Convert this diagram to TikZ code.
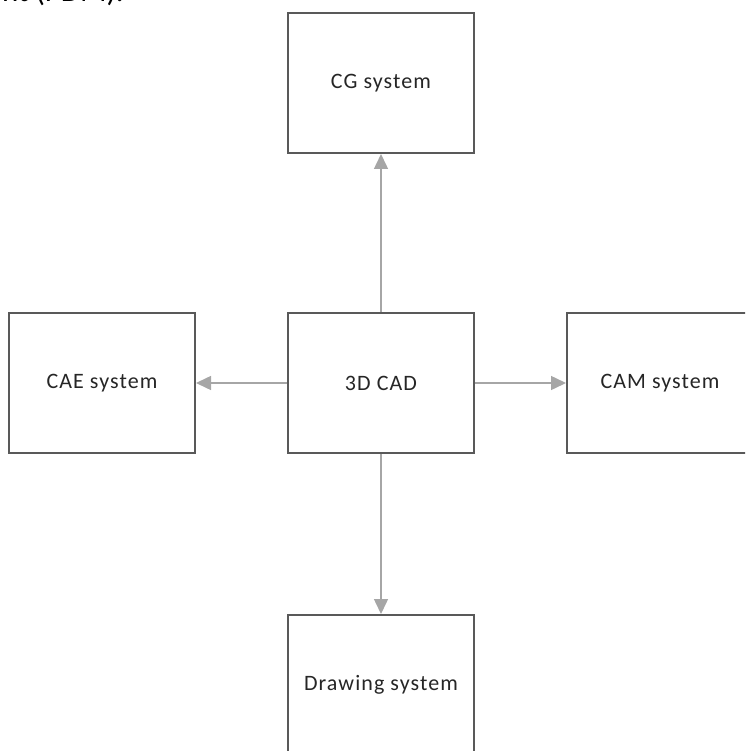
\documentclass[tikz,border=0pt]{standalone}
\usepackage{fontspec}
\setmainfont{Carlito}
\usetikzlibrary{arrows.meta}
\definecolor{boxgray}{HTML}{595959}
\definecolor{linkgray}{HTML}{A6A6A6}
\begin{document}
\begin{tikzpicture}[x=1pt,y=-1pt,
  box/.style={draw=boxgray, line width=2pt, minimum width=186pt, minimum height=140pt,
    inner sep=0pt, fill=white, text=black!85,
    font=\fontsize{22}{26}\selectfont\addfontfeature{LetterSpace=5}},
  link/.style={draw=linkgray, line width=1.5pt, -{Triangle[length=15pt,width=14pt]}}]
\useasboundingbox (0,0) rectangle (745,751);
\clip (0,0) rectangle (745,751);
\node[anchor=base east, inner sep=0pt, font=\fontsize{31}{36}\selectfont] (frag) at (124,2) {nt (PDM).};
\node[box] (cg) at (381,83) {CG system};
\node[box] (cad) at (381,383) {3D CAD};
\node[box] (cae) at (102,383) {CAE system};
\node[box] (cam) at (660,383) {CAM system};
\node[box] (draw) at (381,685) {Drawing system};
\draw[link] (cad) -- (cg);
\draw[link] (cad) -- (cae);
\draw[link] (cad) -- (cam);
\draw[link] (cad) -- (draw);
\end{tikzpicture}
\end{document}
